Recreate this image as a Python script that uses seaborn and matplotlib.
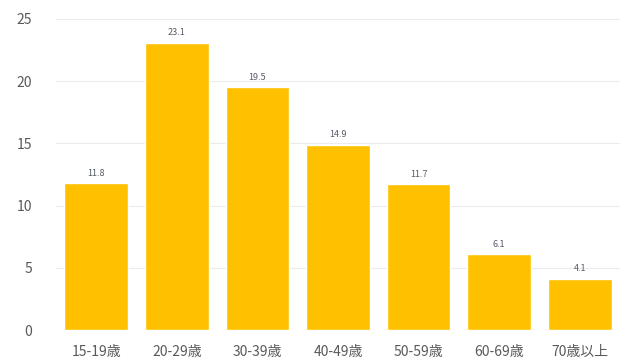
import matplotlib
matplotlib.use("Agg")
import matplotlib.pyplot as plt
import seaborn as sns
import pandas as pd

# Age groups and share values (%)
age_groups = ["15-19歳", "20-29歳", "30-39歳", "40-49歳", "50-59歳", "60-69歳", "70歳以上"]
values = [11.8, 23.1, 19.5, 14.9, 11.7, 6.1, 4.1]
y_ticks = [0, 5, 10, 15, 20, 25]

sns.set_theme(style="white")
plt.rcParams["font.family"] = ["Noto Sans CJK JP", "DejaVu Sans"]

df = pd.DataFrame({"age": age_groups, "value": values})

fig = plt.figure(figsize=(6.2, 3.64), dpi=100)
ax = fig.add_axes([0.0903, 0.0934, 0.9097, 0.8546])

sns.barplot(data=df, x="age", y="value", color="#FFC000", width=0.79,
            saturation=1, ax=ax, zorder=3)

ax.set_ylim(0, 25)
ax.set_xlim(-0.5, 6.5)
ax.set_yticks(y_ticks)
ax.set_yticklabels([str(t) for t in y_ticks])
ax.yaxis.grid(True, color="#ececec", linewidth=0.8, zorder=0)
ax.set_axisbelow(True)
for s in ax.spines.values():
    s.set_visible(False)
ax.set_xlabel("")
ax.set_ylabel("")
ax.tick_params(axis="y", length=0, pad=17, labelsize=10, labelcolor="#595959")
ax.tick_params(axis="x", length=0, pad=11, labelsize=10, labelcolor="#595959")

for i, v in enumerate(values):
    ax.text(i, v + 0.45, f"{v:.1f}", ha="center", va="bottom",
            fontsize=6.5, color="#555a66")

fig.savefig("out.png", dpi=100)
